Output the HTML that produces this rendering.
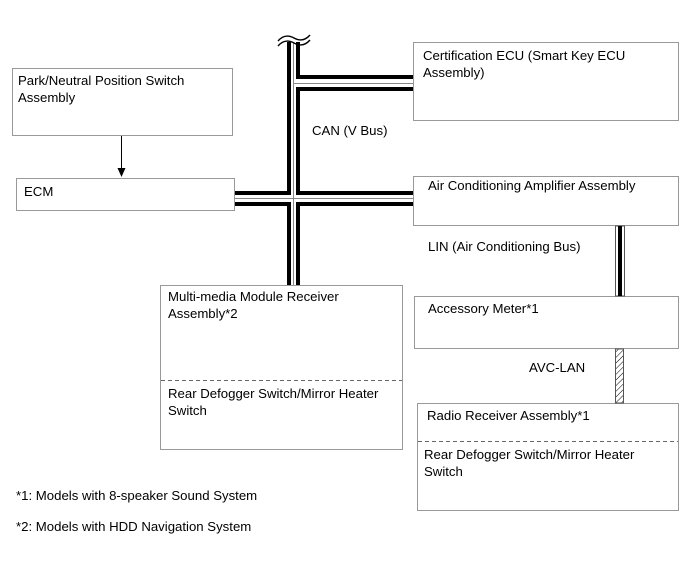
<!DOCTYPE html>
<html><head><style>body{margin:0;background:#fff}svg{display:block}text{font-family:"Liberation Sans",Arial,sans-serif;font-size:13.2px;fill:#000}</style></head>
<body>
<svg width="690" height="561" viewBox="0 0 690 561" xmlns="http://www.w3.org/2000/svg">
<defs>
<pattern id="h" width="4" height="4" patternUnits="userSpaceOnUse" patternTransform="rotate(45)"><line x1="0" y1="0" x2="0" y2="4" stroke="#000" stroke-width="1"/></pattern>
</defs>
<g fill="none" stroke="#999" stroke-width="1">
<rect x="12.5" y="68.5" width="220" height="67"/>
<rect x="16.5" y="178.5" width="218" height="32"/>
<rect x="413.5" y="42.5" width="265" height="78"/>
<rect x="413.5" y="176.5" width="265" height="49"/>
<rect x="414.5" y="296.5" width="264" height="52"/>
<rect x="160.5" y="285.5" width="242" height="164"/>
<rect x="417.5" y="403.5" width="261" height="107"/>
</g>
<g stroke="#666" stroke-dasharray="4,3" stroke-width="1">
<line x1="161" y1="380.5" x2="402" y2="380.5"/>
<line x1="418" y1="441.5" x2="678" y2="441.5"/>
</g>
<line x1="121.5" y1="136" x2="121.5" y2="170" stroke="#000"/>
<polygon points="117.5,168 125.5,168 121.5,177" fill="#000"/>
<g fill="#000">
<rect x="287" y="42" width="4" height="149"/>
<rect x="287" y="206" width="4" height="79"/>
<rect x="296" y="42" width="4" height="37"/>
<rect x="296" y="87" width="4" height="104"/>
<rect x="296" y="206" width="4" height="79"/>
<rect x="296" y="75" width="117" height="4"/>
<rect x="296" y="87" width="117" height="4"/>
<rect x="235" y="191" width="56" height="4"/>
<rect x="296" y="191" width="117" height="4"/>
<rect x="235" y="202" width="56" height="4"/>
<rect x="296" y="202" width="117" height="4"/>
</g>
<g stroke="#888" stroke-width="1">
<line x1="293.5" y1="42" x2="293.5" y2="285"/>
<line x1="294" y1="83.5" x2="413" y2="83.5"/>
<line x1="235" y1="198.5" x2="413" y2="198.5"/>
</g>
<path d="M278 46 q7 -8 16 -3 t16 -3" fill="none" stroke="#000" stroke-width="1.4"/>
<path d="M278 41 q7 -8 16 -3 t16 -3" fill="none" stroke="#000" stroke-width="1.4"/>
<rect x="615.5" y="226" width="9" height="70" fill="#fff" stroke="#555"/>
<rect x="618" y="226" width="4" height="70" fill="#000"/>
<rect x="615.5" y="349" width="8" height="54" fill="url(#h)" stroke="#555"/>
<text x="18" y="85">Park/Neutral Position Switch</text>
<text x="18" y="102">Assembly</text>
<text x="24" y="196">ECM</text>
<text x="423" y="60">Certification ECU (Smart Key ECU</text>
<text x="423" y="77">Assembly)</text>
<text x="312" y="135">CAN (V Bus)</text>
<text x="428" y="190">Air Conditioning Amplifier Assembly</text>
<text x="428" y="251">LIN (Air Conditioning Bus)</text>
<text x="428" y="313">Accessory Meter*1</text>
<text x="529" y="372">AVC-LAN</text>
<text x="427" y="420">Radio Receiver Assembly*1</text>
<text x="424" y="459">Rear Defogger Switch/Mirror Heater</text>
<text x="424" y="476">Switch</text>
<text x="168" y="301">Multi-media Module Receiver</text>
<text x="168" y="318">Assembly*2</text>
<text x="168" y="398">Rear Defogger Switch/Mirror Heater</text>
<text x="168" y="415">Switch</text>
<text x="16" y="500">*1: Models with 8-speaker Sound System</text>
<text x="16" y="531">*2: Models with HDD Navigation System</text>
</svg>
</body></html>
